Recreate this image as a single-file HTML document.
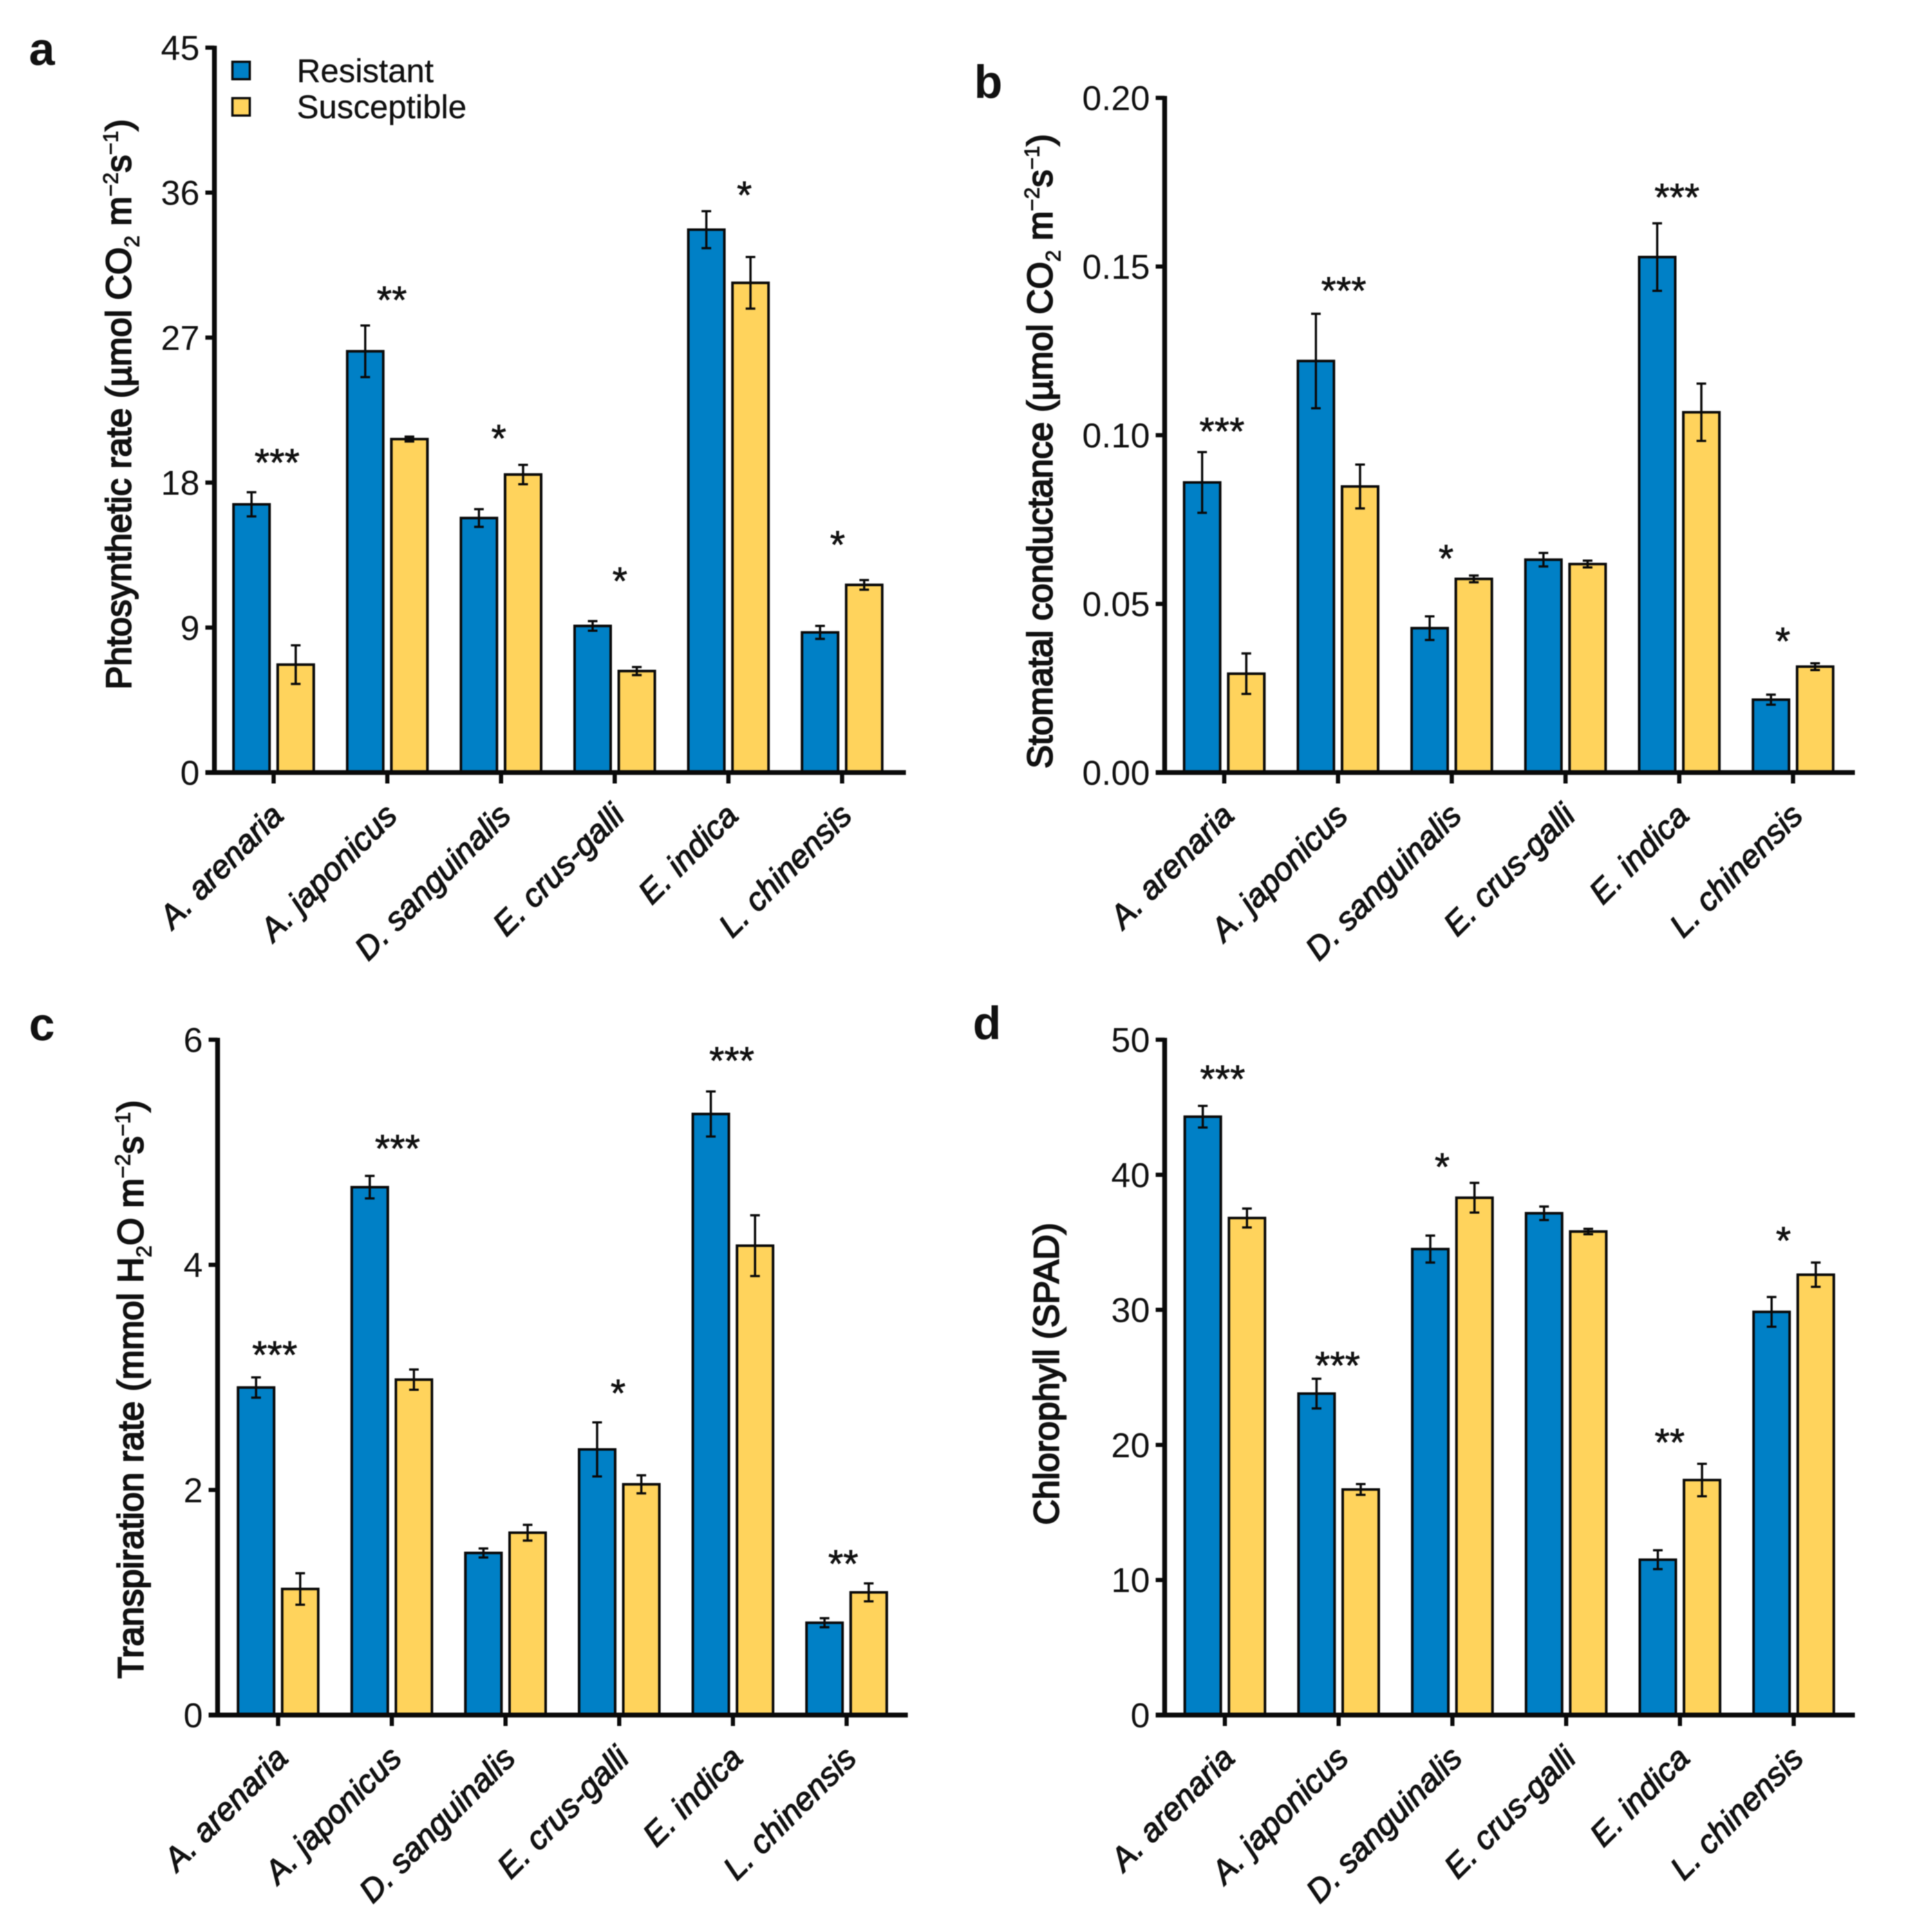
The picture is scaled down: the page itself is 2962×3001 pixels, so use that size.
<!DOCTYPE html>
<html lang="en">
<head>
<meta charset="utf-8">
<title>Physiological traits of resistant and susceptible weeds</title>
<style>
html,body{margin:0;padding:0;background:#fff;}
svg{display:block;filter:blur(0.8px);}
text{font-family:"Liberation Sans",Arial,sans-serif;fill:#111;}
</style>
</head>
<body>
<svg id="chart" xmlns="http://www.w3.org/2000/svg" width="2962" height="3001" viewBox="0 0 2962 3001"></svg>
<script>
const categories = ["A. arenaria","A. japonicus","D. sanguinalis","E. crus-galli","E. indica","L. chinensis"];

const aTicks = [0,9,18,27,36,45];
const aResistant = [16.65,26.15,15.8,9.1,33.7,8.7];
const aResistantErr = [0.75,1.6,0.55,0.3,1.15,0.4];
const aSusceptible = [6.7,20.7,18.5,6.3,30.4,11.65];
const aSusceptibleErr = [1.2,0.15,0.6,0.25,1.6,0.3];
const aSig = ["***","**","*","*","*","*"];
const aSigLevel = [19.5,29.6,21.0,12.15,36.1,14.4];
const aSigShift = [0.03,0.04,-0.02,0.045,0.14,-0.04];

const bTicks = [0,0.05,0.10,0.15,0.20];
const bResistant = [0.086,0.122,0.0428,0.0631,0.1528,0.0216];
const bResistantErr = [0.009,0.014,0.0035,0.002,0.01,0.0015];
const bSusceptible = [0.0293,0.0848,0.0574,0.0618,0.1068,0.0314];
const bSusceptibleErr = [0.006,0.0065,0.001,0.001,0.0085,0.001];
const bSig = ["***","***","*","","***","*"];
const bSigLevel = [0.1024,0.1441,0.0647,null,0.1718,0.0402];
const bSigShift = [-0.02,0.05,-0.05,0,-0.02,-0.09];

const cTicks = [0,2,4,6];
const cResistant = [2.91,4.69,1.44,2.36,5.34,0.82];
const cResistantErr = [0.09,0.1,0.04,0.24,0.2,0.04];
const cSusceptible = [1.12,2.98,1.62,2.05,4.17,1.09];
const cSusceptibleErr = [0.14,0.09,0.07,0.08,0.27,0.08];
const cSig = ["***","***","","*","***","**"];
const cSigLevel = [3.236,5.07,null,2.896,5.85,1.38];
const cSigShift = [-0.03,0.05,0,-0.01,-0.01,-0.03];

const dTicks = [0,10,20,30,40,50];
const dResistant = [44.3,23.8,34.5,37.15,11.5,29.85];
const dResistantErr = [0.8,1.1,1.0,0.5,0.7,1.1];
const dSusceptible = [36.8,16.7,38.3,35.8,17.4,32.6];
const dSusceptibleErr = [0.7,0.4,1.1,0.2,1.2,0.9];
const dSig = ["***","***","*","","**","*"];
const dSigLevel = [47.4,26.2,40.9,null,20.5,35.45];
const dSigShift = [-0.02,-0.01,-0.09,0,-0.09,-0.09];

const BLUE = "#0080c6";
const YELLOW = "#ffd35c";
const INK = "#0a0a0a";
const NS = "http://www.w3.org/2000/svg";
const svg = document.getElementById("chart");

function el(tag, attrs, parent){
  const n = document.createElementNS(NS, tag);
  for(const k in attrs){ n.setAttribute(k, attrs[k]); }
  (parent||svg).appendChild(n);
  return n;
}

function yLabel(group, x, cy, size, parts){
  const t = el("text",{x:0,y:0,"text-anchor":"middle","font-size":size,stroke:"#111","stroke-width":2.2,transform:"translate("+x+","+cy+") rotate(-90)"},group);
  
  
  let pending = 0;
  parts.forEach(function(p){
    const s = el("tspan",{},t);
    s.textContent = p[0];
    let shift = 0;
    if(p[1]==="sub"){ shift = 13; s.setAttribute("font-size", size*0.6); s.setAttribute("stroke-width", 1); }
    if(p[1]==="sup"){ shift = -20; s.setAttribute("font-size", size*0.6); s.setAttribute("stroke-width", 1); }
    s.setAttribute("dy", pending + shift);
    pending = -shift;
  });
}

function panel(cfg){
  const g = el("g",{});
  
  
  const maxV = cfg.ticks[cfg.ticks.length-1];
  const y = function(v){ return cfg.y0 - (v/maxV)*(cfg.y0-cfg.yTop); };
  const xTick = function(i){ return cfg.x0 + i*cfg.step; };
  const BAR_OFFSET = 34.3, BAR_W = 56, CAP = 7.5;

  const letter = el("text",{x:cfg.letterX,y:cfg.letterY,"font-size":72,"font-weight":"bold"},g);
  
  
  letter.textContent = cfg.letter;

  [[cfg.resistant,cfg.resistantErr,-1,BLUE,"resistant"],[cfg.susceptible,cfg.susceptibleErr,1,YELLOW,"susceptible"]].forEach(function(s){
    s[0].forEach(function(v,i){
      const cx = xTick(i)+s[2]*BAR_OFFSET;
      const bar = el("rect",{x:cx-BAR_W/2,y:y(v),width:BAR_W,height:cfg.y0-y(v),fill:s[3],stroke:INK,"stroke-width":4},g);
      
      
      const e = s[1][i];
      const err = el("path",{d:"M"+cx+" "+y(v+e)+"V"+y(v-e)+"M"+(cx-CAP)+" "+y(v+e)+"H"+(cx+CAP)+"M"+(cx-CAP)+" "+y(v-e)+"H"+(cx+CAP),fill:"none",stroke:INK,"stroke-width":3.5},g);
      
      
    });
  });

  const yAxis = el("line",{x1:cfg.axisX,x2:cfg.axisX,y1:cfg.yTop-3,y2:cfg.y0+3,stroke:INK,"stroke-width":7.5},g);
  
  
  const xAxis = el("line",{x1:cfg.axisX-14,x2:cfg.xEnd,y1:cfg.y0,y2:cfg.y0,stroke:INK,"stroke-width":7.5},g);
  
  

  cfg.ticks.forEach(function(v){
    const tick = el("line",{x1:cfg.axisX-14,x2:cfg.axisX,y1:y(v),y2:y(v),stroke:INK,"stroke-width":6.5},g);
    
    
    const label = el("text",{x:cfg.axisX-23,y:y(v)+19,"text-anchor":"end","font-size":54},g);
    
    
    label.textContent = v.toFixed(cfg.decimals);
  });

  categories.forEach(function(c,i){
    const tick = el("line",{x1:xTick(i),x2:xTick(i),y1:cfg.y0,y2:cfg.y0+17,stroke:INK,"stroke-width":6.5},g);
    
    
    const px = xTick(i)+18, py = cfg.y0+70;
    const label = el("text",{x:px,y:py,"text-anchor":"end","font-size":50.5,"font-style":"italic",stroke:"#111","stroke-width":1.4,transform:"rotate(-45 "+px+" "+py+")"},g);
    
    
    label.textContent = c;
    if(cfg.sig[i]){
      const star = el("text",{x:xTick(i)+cfg.sigShift[i]*cfg.step,y:y(cfg.sigLevel[i])+27,"text-anchor":"middle","font-size":60,stroke:"#111","stroke-width":0.8},g);
      
      
      star.textContent = cfg.sig[i];
    }
  });

  yLabel(g,cfg.titleX,cfg.titleY,cfg.titleSize,cfg.title);
}

panel({letter:"a",letterX:45,letterY:101,x0:425,step:176.6,axisX:333,xEnd:1407,y0:1200,yTop:74,decimals:0,
  ticks:aTicks,resistant:aResistant,resistantErr:aResistantErr,susceptible:aSusceptible,susceptibleErr:aSusceptibleErr,
  sig:aSig,sigLevel:aSigLevel,sigShift:aSigShift,titleX:203,titleY:628,titleSize:54.6,
  title:[["Phtosynthetic rate (µmol CO"],["2","sub"],[" m"],["−2","sup"],["s"],["−1","sup"],[")"]]});

panel({letter:"b",letterX:1513,letterY:152,x0:1901.5,step:176.7,axisX:1809,xEnd:2881,y0:1200,yTop:152,decimals:2,
  ticks:bTicks,resistant:bResistant,resistantErr:bResistantErr,susceptible:bSusceptible,susceptibleErr:bSusceptibleErr,
  sig:bSig,sigLevel:bSigLevel,sigShift:bSigShift,titleX:1634,titleY:701,titleSize:54.4,
  title:[["Stomatal conductance (µmol CO"],["2","sub"],[" m"],["−2","sup"],["s"],["−1","sup"],[")"]]});

panel({letter:"c",letterX:45,letterY:1616,x0:432,step:176.6,axisX:338,xEnd:1410,y0:2664,yTop:1615,decimals:0,
  ticks:cTicks,resistant:cResistant,resistantErr:cResistantErr,susceptible:cSusceptible,susceptibleErr:cSusceptibleErr,
  sig:cSig,sigLevel:cSigLevel,sigShift:cSigShift,titleX:222,titleY:2158,titleSize:55.2,
  title:[["Transpiration rate (mmol H"],["2","sub"],["O m"],["−2","sup"],["s"],["−1","sup"],[")"]]});

panel({letter:"d",letterX:1511,letterY:1614,x0:1902.5,step:176.7,axisX:1809,xEnd:2881,y0:2664,yTop:1615,decimals:0,
  ticks:dTicks,resistant:dResistant,resistantErr:dResistantErr,susceptible:dSusceptible,susceptibleErr:dSusceptibleErr,
  sig:dSig,sigLevel:dSigLevel,sigShift:dSigShift,titleX:1644,titleY:2134,titleSize:54.6,
  title:[["Chlorophyll (SPAD)"]]});

const legend = el("g",{});


[["Resistant",BLUE,96,127.5],["Susceptible",YELLOW,152.5,183.5]].forEach(function(item){
  const swatch = el("rect",{x:361,y:item[2],width:27,height:27,fill:item[1],stroke:INK,"stroke-width":3.5},legend);
  
  
  const text = el("text",{x:461,y:item[3],"font-size":51,stroke:"#111","stroke-width":0.4},legend);
  
  
  text.textContent = item[0];
});
</script>
</body>
</html>
